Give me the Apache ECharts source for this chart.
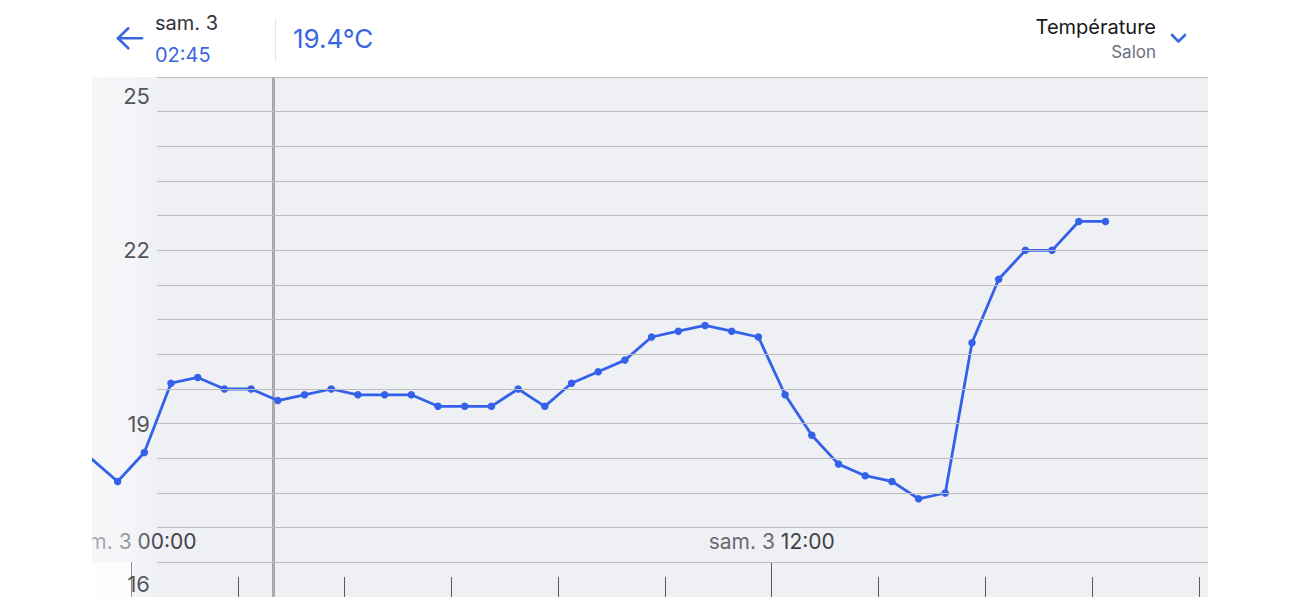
<!DOCTYPE html>
<html><head><meta charset="utf-8">
<script src="https://cdn.jsdelivr.net/npm/echarts@6/dist/echarts.min.js"></script>
<style>html,body{margin:0;padding:0;background:#fff}#c{width:1300px;height:597px}</style>
</head><body><div id="c"></div>
<script>
// Hours relative to "sam. 3 00:00"
const hours = [-0.75,-0.25,0.25,0.75,1.25,1.75,2.25,2.75,3.25,3.75,4.25,4.75,5.25,5.75,6.25,6.75,7.25,7.75,8.25,8.75,9.25,9.75,10.25,10.75,11.25,11.75,12.25,12.75,13.25,13.75,14.25,14.75,15.25,15.75,16.25,16.75,17.25,17.75,18.25];
const temps = [18.4,18.0,18.5,19.7,19.8,19.6,19.6,19.4,19.5,19.6,19.5,19.5,19.5,19.3,19.3,19.3,19.6,19.3,19.7,19.9,20.1,20.5,20.6,20.7,20.6,20.5,19.5,18.8,18.3,18.1,18.0,17.7,17.8,20.4,21.5,22.0,22.0,22.5,22.5];
const yMin = 16, yMax = 25;
const yGridValues = [16,16.6,17.2,17.8,18.4,19,19.6,20.2,20.8,21.4,22,22.6,23.2,23.8,24.4,25];
const yLabelValues = [16,19,22,25];
const xMin = -0.73, xMax = 20.17;
const xMinorTicks = [2,4,6,8,10,14,16,18,20];
const xMajorTicks = [0,12];
const xLabelDay = ['sam. 3','sam. 3'];
const xLabelTime = ['00:00','12:00'];
const cursorHour = 2.66;
const header = {day:'sam. 3', time:'02:45', value:'19.4°C', title:'Température', room:'Salon'};

const FONT = 'Inter, "Noto Sans", sans-serif';
const BLUE = '#3a67e0';
const LINE = '#3361ea';

const chart = echarts.init(document.getElementById('c'), null, {renderer:'svg'});
const lblStyle = {fontSize:22, color:'#55565b', fontFamily:FONT};
chart.setOption({
  animation:false,
  backgroundColor:'#ffffff',
  grid:[
    {left:92, right:92, top:77, bottom:0, show:true, backgroundColor:'#eff0f4', borderWidth:0, outerBoundsMode:'none'},
    {left:157, right:92, top:77, bottom:0, show:false, outerBoundsMode:'none'}
  ],
  xAxis:[
    {type:'value', gridIndex:0, min:xMin, max:xMax, axisLine:{show:false}, splitLine:{show:false},
     axisTick:{show:true, inside:true, length:20, customValues:xMinorTicks, lineStyle:{color:'#5a5a5f', width:1}},
     axisLabel:{show:false}},
    {type:'value', gridIndex:0, position:'bottom', min:xMin, max:xMax, axisLine:{show:false}, splitLine:{show:false},
     axisTick:{show:true, inside:true, length:35, customValues:xMajorTicks, lineStyle:{color:'#5a5a5f', width:1}},
     axisLabel:{show:true, inside:true, margin:45, customValues:xMajorTicks, showMinLabel:true, showMaxLabel:true,
       formatter:function(v){const i = xMajorTicks.indexOf(Math.round(v)); if(i<0) return ''; return '{d|'+xLabelDay[i]+' }{t|'+xLabelTime[i]+'}';},
       rich:{d:{fontSize:21, color:'#6a6b70', fontFamily:FONT}, t:{fontSize:21, color:'#404146', fontFamily:FONT}}}},
    {type:'value', gridIndex:1, min:xMin, max:xMax, show:false}
  ],
  yAxis:[
    {type:'value', gridIndex:0, min:yMin, max:yMax, show:false, splitLine:{show:false}},
    {type:'value', gridIndex:1, min:yMin, max:yMax, z:5, axisLine:{show:false},
     axisTick:{show:false, customValues:yGridValues},
     splitLine:{show:true, lineStyle:{color:'#bcbdc2', width:1}},
     axisLabel:{show:true, margin:7, customValues:yLabelValues, showMinLabel:true, showMaxLabel:true,
       formatter:function(v){const r = Math.round(v*10)/10; if(yLabelValues.indexOf(r)<0) return ''; if(r===yMax) return '{top|'+r+'}'; if(r===yMin) return '{bot|'+r+'}'; return '{n|'+r+'}';},
       rich:{n:lblStyle, top:Object.assign({padding:[38,0,0,0]}, lblStyle), bot:Object.assign({padding:[0,0,27,0]}, lblStyle)}}}
  ],
  series:[{
    type:'line', xAxisIndex:0, yAxisIndex:0, z:3,
    data: hours.map((h,i)=>[h,temps[i]]),
    symbol:'circle', symbolSize:7.5, showSymbol:true,
    lineStyle:{color:LINE, width:2.8}, itemStyle:{color:LINE},
    clip:true,
    markLine:{silent:true, symbol:'none', label:{show:false}, z:1,
      lineStyle:{color:'#a9aaae', width:3, type:'solid'}, emphasis:{disabled:true},
      data:[{xAxis:cursorHour}]}
  }],
  graphic:[
    {type:'rect', z:1, silent:true, shape:{x:92, y:77, width:68, height:520},
     style:{fill:new echarts.graphic.LinearGradient(0,0,1,0,[{offset:0,color:'rgba(255,255,255,0.45)'},{offset:0.6,color:'rgba(255,255,255,0.3)'},{offset:1,color:'rgba(255,255,255,0)'}])}},
    {type:'rect', z:1, silent:true, shape:{x:92, y:562, width:39, height:35}, style:{fill:'rgba(255,255,255,0.8)'}},
    {type:'rect', z:50, silent:true, shape:{x:0, y:77, width:92, height:520}, style:{fill:'#ffffff'}},
    // header
    {type:'polyline', z:60, shape:{points:[[118,38.3],[142,38.3]]}, style:{stroke:BLUE, lineWidth:2.6, fill:null, lineCap:'round'}},
    {type:'polyline', z:60, shape:{points:[[128.3,28.3],[118,38.3],[128.3,48.3]]}, style:{stroke:BLUE, lineWidth:2.6, fill:null, lineCap:'round', lineJoin:'round'}},
    {type:'text', z:60, style:{text:header.day, x:155, y:23, font:'400 20px '+FONT, fill:'#333338', textVerticalAlign:'middle'}},
    {type:'text', z:60, style:{text:header.time, x:155, y:55, font:'400 20px '+FONT, fill:BLUE, textVerticalAlign:'middle'}},
    {type:'line', z:60, shape:{x1:275.5, y1:18, x2:275.5, y2:61}, style:{stroke:'#e4e5e8', lineWidth:1}},
    {type:'text', z:60, style:{text:header.value, x:293, y:38, font:'400 26px '+FONT, fill:BLUE, textVerticalAlign:'middle'}},
    {type:'text', z:60, style:{text:header.title, x:1156, y:27, font:'400 20px '+FONT, fill:'#18181b', textAlign:'right', textVerticalAlign:'middle'}},
    {type:'text', z:60, style:{text:header.room, x:1156, y:52, font:'400 17px '+FONT, fill:'#6b7080', textAlign:'right', textVerticalAlign:'middle'}},
    {type:'polyline', z:60, shape:{points:[[1172,35],[1178.5,41.5],[1185,35]]}, style:{stroke:BLUE, lineWidth:2.6, fill:null, lineCap:'round', lineJoin:'round'}}
  ]
});
</script></body></html>
